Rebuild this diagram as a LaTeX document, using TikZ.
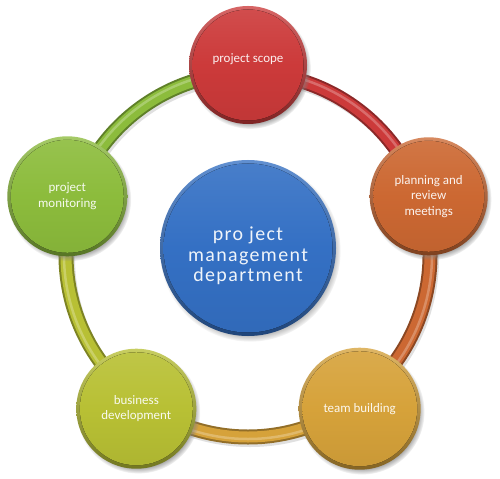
\documentclass[tikz,border=0pt]{standalone}
\usepackage{fontspec}
\setmainfont{Carlito}
\usetikzlibrary{shadows,calc}
\definecolor{cred}{RGB}{204,58,58}
\definecolor{corange}{RGB}{204,104,50}
\definecolor{cteam}{RGB}{214,162,58}
\definecolor{cbiz}{RGB}{184,192,52}
\definecolor{cgreen}{RGB}{140,188,60}
\definecolor{cblue}{RGB}{52,112,196}
\tikzset{
  bead/.style n args={2}{circle, inner sep=0pt, minimum size=2*#2, align=center,
    text=white!92!#1,
    top color=#1!78!white, bottom color=#1!62!black,
    circular drop shadow={shadow xshift=2bp, shadow yshift=-3bp, shadow scale=1.03},
    path picture={\fill[top color=#1!90!white, bottom color=#1!94!black, middle color=#1]
      (path picture bounding box.center) circle (#2-3.5bp);}},
  small/.style={font=\fontsize{13}{15.5}\selectfont},
  bigtext/.style={align=center, text=white!92!cblue, font=\fontsize{20}{20.5}\selectfont\addfontfeature{LetterSpace=7}},
  tubeout/.style={line width=15bp, #1!68!black},
  tubemid/.style={line width=11bp, #1},
  tubehi/.style={line width=2.5bp, #1!75!white},
}
\begin{document}
\begin{tikzpicture}[x=1bp,y=-1bp]
\useasboundingbox[fill=white] (0,0) rectangle (500,479);
\coordinate (C) at (248,255);
\foreach \s/\col in {90/cred, 18/corange, -54/cteam, -126/cbiz, -198/cgreen}{
  \draw[line width=14bp, black!12] ([shift={(\s:182bp)},xshift=2bp,yshift=-3bp]C) arc[start angle=\s, end angle=\s-72, radius=182bp];
  \draw[tubeout=\col] ([shift={(\s:182bp)}]C) arc[start angle=\s, end angle=\s-72, radius=182bp];
  \draw[tubemid=\col] ([shift={(\s:182bp)}]C) arc[start angle=\s, end angle=\s-72, radius=182bp];
  \draw[tubehi=\col] ([shift={(\s:184bp)}]C) arc[start angle=\s, end angle=\s-72, radius=184bp];
}
\node[bead={cblue}{88bp}] (pm) at (248,248) {};
\node[bigtext] (pmtext) at ([yshift=-8bp]pm.center) {pro ject\\management\\department};
\node[bead={cred}{59bp}, small] (scope) at ($(C)+(90:190bp)$) {project scope\\[-2bp]};
\node[bead={corange}{59bp}, small] (plan) at ($(C)+(18:190bp)$) {planning  and\\review\\meetings};
\node[bead={cteam}{61bp}, small] (team) at ($(C)+(-54:190bp)$) {team building};
\node[bead={cbiz}{60bp}, small] (biz) at ($(C)+(-126:190bp)$) {business\\development};
\node[bead={cgreen}{60bp}, small] (mon) at ($(C)+(162:190bp)$) {project\\monitoring};
\end{tikzpicture}
\end{document}
